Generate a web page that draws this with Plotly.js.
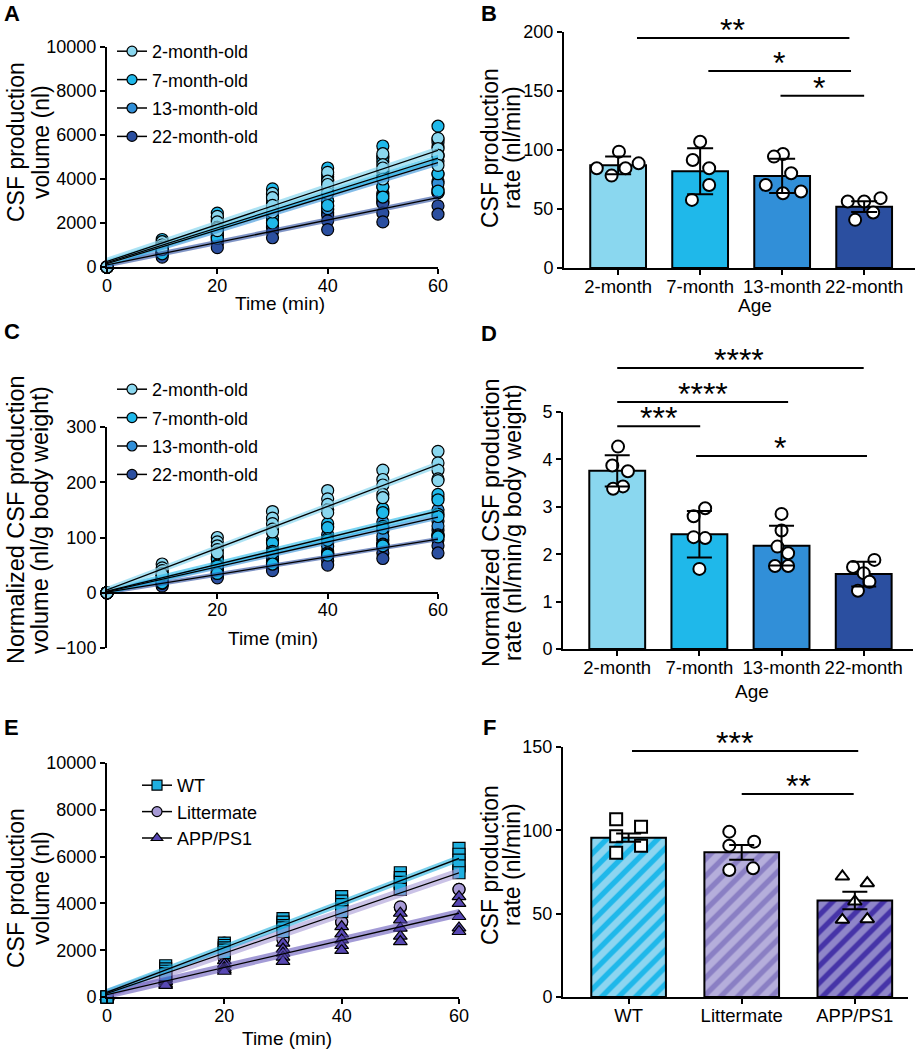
<!DOCTYPE html>
<html><head><meta charset="utf-8">
<script src="https://cdn.plot.ly/plotly-3.0.1.min.js"></script>
<style>body{margin:0;background:#fff}#chart{width:918px;height:1050px}</style>
</head><body><div id="chart"></div>
<script>
// ---------------- DATA ----------------
const times = [0, 10, 20, 30, 40, 50, 60];
const ageGroups = ['2-month-old', '7-month-old', '13-month-old', '22-month-old'];
const ageCats = ['2-month', '7-month', '13-month', '22-month'];
const genoCats = ['WT', 'Littermate', 'APP/PS1'];

// Panel A: CSF production volume (nl), one row per animal
const volA_2m = [
  [0, 1150, 2300, 3350, 4300, 5150, 5850],
  [0, 1000, 2050, 3150, 3900, 4650, 5380],
  [0, 900, 1800, 2650, 3600, 4400, 5080],
  [0, 850, 1750, 2800, 3750, 4500, 5070],
  [0, 800, 1650, 2500, 3350, 4000, 4620]];
const volA_7m = [
  [0, 1250, 2450, 3550, 4500, 5500, 6400],
  [0, 1000, 2100, 3100, 3950, 4800, 5450],
  [0, 900, 1850, 2900, 3700, 4350, 5050],
  [0, 750, 1500, 2300, 3000, 3650, 4240],
  [0, 600, 1300, 2000, 2800, 3180, 3450]];
const volA_13m = [
  [0, 1100, 2250, 3300, 4200, 5050, 5800],
  [0, 1050, 2150, 3200, 4100, 4950, 5660],
  [0, 850, 1800, 2700, 3450, 4150, 4820],
  [0, 750, 1550, 2300, 3000, 3650, 4220],
  [0, 700, 1400, 2100, 2750, 3350, 3890],
  [0, 650, 1350, 2050, 2650, 3250, 3800]];
const volA_22m = [
  [0, 700, 1350, 2000, 2600, 3100, 3550],
  [0, 650, 1250, 1850, 2450, 2950, 3380],
  [0, 600, 1200, 1800, 2350, 2900, 3380],
  [0, 550, 1050, 1600, 2100, 2450, 2780],
  [0, 450, 880, 1330, 1700, 2050, 2400]];
const fitA_start = [250, 200, 150, 100];
const fitA_end = [5300, 4950, 4750, 3150];
const bandA = [180, 150, 150, 120];

// Panel B: CSF production rate (nl/min)
const rateB_mean = [87, 82, 78, 52];
const rateB_sd = [7.5, 19.5, 14.5, 4.5];
const rateB_pts = [
  [98.6, 88.7, 84.5, 84.5, 78.3],
  [107, 91.5, 84.5, 70.4, 57.7],
  [96.6, 94.4, 80.3, 70.4, 64.8, 63.4],
  [59.2, 56.3, 56.3, 47, 40.8]];
const sigB = [[0.23, 2.82, 195, '**', 1.40], [1.10, 2.84, 167, '*', 1.96], [1.98, 3.0, 146, '*', 2.45]];

// Panel C: normalized volume (nl/g body weight)
const volC_2m = [
  [0, 52, 100, 147, 185, 222, 256],
  [0, 45, 92, 135, 170, 205, 235],
  [0, 40, 85, 125, 160, 195, 222],
  [0, 35, 78, 115, 150, 178, 206],
  [0, 33, 72, 110, 145, 172, 203]];
const volC_7m = [
  [0, 33, 65, 95, 125, 152, 178],
  [0, 30, 60, 90, 118, 145, 168],
  [0, 25, 50, 75, 98, 120, 142],
  [0, 24, 48, 72, 95, 117, 138],
  [0, 18, 35, 52, 68, 85, 101]];
const volC_13m = [
  [0, 30, 62, 92, 120, 148, 171],
  [0, 27, 53, 80, 105, 128, 150],
  [0, 23, 46, 68, 90, 112, 130],
  [0, 21, 42, 63, 84, 102, 121],
  [0, 18, 37, 55, 72, 88, 105],
  [0, 17, 35, 52, 70, 87, 103]];
const volC_22m = [
  [0, 20, 40, 58, 75, 95, 113],
  [0, 18, 37, 55, 70, 87, 104],
  [0, 17, 33, 50, 65, 82, 96],
  [0, 15, 30, 44, 58, 72, 85],
  [0, 12, 27, 40, 50, 62, 72]];
const fitC_start = [5, 3, 2, 1];
const fitC_end = [232, 148, 137, 97];
const bandC = [6, 6, 5, 4];

// Panel D: normalized rate (nl/min/g body weight)
const rateD_mean = [3.76, 2.42, 2.18, 1.58];
const rateD_sd = [0.33, 0.49, 0.42, 0.26];
const rateD_pts = [
  [4.27, 3.87, 3.75, 3.43, 3.38],
  [2.97, 2.8, 2.36, 2.34, 1.69],
  [2.85, 2.5, 2.16, 2.02, 1.75, 1.75],
  [1.88, 1.73, 1.6, 1.42, 1.23]];
const sigD = [[0, 3, 5.93, '****', 1.48], [0, 2.08, 5.21, '****', 1.04], [0, 1.01, 4.7, '***', 0.5], [0.96, 3.04, 4.07, '*', 1.98]];

// Panel E: CSF production volume by genotype (nl)
const volE_wt = [
  [0, 1335, 2300, 3350, 4290, 5310, 6350],
  [0, 1200, 2200, 3200, 4100, 5100, 6100],
  [0, 1100, 2100, 3050, 3950, 4900, 5850],
  [0, 1000, 2000, 2950, 3750, 4600, 5600],
  [0, 950, 1900, 2800, 3650, 4600, 5310]];
const volE_lit = [
  [0, 1100, 2300, 3350, 4200, 5200, 5950],
  [0, 1000, 2100, 3100, 3900, 4900, 5600],
  [0, 950, 2000, 3000, 3800, 4700, 5450],
  [0, 800, 1700, 2500, 3200, 3820, 4600],
  [0, 750, 1650, 2450, 3200, 3850, 4600]];
const volE_app = [
  [0, 800, 1550, 2300, 3010, 3580, 4290],
  [0, 700, 1400, 2050, 2700, 3300, 4000],
  [0, 650, 1250, 1870, 2440, 2940, 3440],
  [0, 550, 1165, 1700, 2200, 2600, 2950],
  [0, 500, 1100, 1520, 1990, 2370, 2800]];
const fitE_start = [200, 150, 100];
const fitE_end = [5920, 5310, 3580];
const bandE = [150, 200, 180];

// Panel F: CSF production rate by genotype (nl/min)
const rateF_mean = [95.6, 86.8, 57.9];
const rateF_sem = [2.5, 4.4, 5.3];
const rateF_pts = [
  [106.6, 102.2, 96.4, 90.8, 86.6],
  [99.2, 93.2, 90.8, 76.2, 77.2],
  [72.3, 68.3, 57.3, 46.3, 46.7]];
const sigF = [[0.03, 2.03, 147.6, '***', 0.94], [1.0, 1.99, 121.8, '**', 1.5]];

// ---------------- STYLE ----------------
const W = 918, H = 1050;
const px = x => x / W;
const py = y => 1 - y / H;
const FONT = 'Arial';
const ageColors = ['#8ad7ef', '#1fb8ea', '#318fd8', '#2b4fa0'];
const ageBand = ['rgba(138,215,239,0.7)', 'rgba(31,184,234,0.6)', 'rgba(49,143,216,0.6)', 'rgba(43,79,160,0.6)'];
const genoColors = ['#1fb0e0', '#a79ad6', '#5848b4'];
const genoBand = ['rgba(31,176,224,0.6)', 'rgba(167,154,214,0.6)', 'rgba(88,72,180,0.55)'];
const genoSymbols = ['square', 'circle', 'triangle-up'];
const fPatBg = ['#8dd5f0', '#b5aedb', '#8f86c9'];
const fPatFg = ['#1fb8ea', '#8a7fc4', '#4634a8'];
const jitB = [[0.01, 0.25, -0.26, 0.09, -0.08], [0, -0.09, 0.11, 0.11, -0.1], [0.01, -0.1, 0.11, -0.2, 0.23, 0.01], [0.2, -0.2, 0, 0.11, -0.11]];
const jitD = [[0.01, -0.06, 0.13, 0.07, -0.05], [0.07, -0.07, -0.07, 0.07, 0], [0, 0, -0.05, 0.08, -0.08, 0.08], [0.13, -0.13, 0, 0.07, -0.07]];
const jitF = [[-0.11, 0.11, -0.11, 0.11, -0.11], [-0.11, 0.11, -0.11, -0.11, 0.1], [-0.11, 0.11, 0, -0.11, 0.11]];

const traces = [];
const annotations = [];

function linePanel(sets, colors, bands, symbols, names, f0, f1, hw, xa, ya, legendId, order) {
  order.forEach(i => {
    const rows = sets[i];
    traces.push({type: 'scatter', mode: 'markers', xaxis: xa, yaxis: ya,
      x: rows.flatMap(() => times), y: rows.flat(), cliponaxis: false, showlegend: false, hoverinfo: 'skip',
      marker: {color: colors[i], size: 12, symbol: symbols[i], line: {color: 'black', width: 1.2}}});
  });
  order.forEach(i => {
    traces.push({type: 'scatter', mode: 'lines', xaxis: xa, yaxis: ya, x: [0, 60], y: [f0[i] - hw[i], f1[i] - hw[i]],
      line: {width: 0}, showlegend: false, hoverinfo: 'skip'});
    traces.push({type: 'scatter', mode: 'lines', xaxis: xa, yaxis: ya, x: [0, 60], y: [f0[i] + hw[i], f1[i] + hw[i]],
      line: {width: 0}, fill: 'tonexty', fillcolor: bands[i], showlegend: false, hoverinfo: 'skip'});
  });
  order.forEach(i => {
    traces.push({type: 'scatter', mode: 'lines', xaxis: xa, yaxis: ya, x: [0, 60], y: [f0[i], f1[i]],
      line: {color: 'black', width: 1.3}, showlegend: false, hoverinfo: 'skip'});
  });
  names.forEach((n, i) => {
    traces.push({type: 'scatter', mode: 'lines+markers', xaxis: xa, yaxis: ya, x: [null], y: [null], name: n,
      legend: legendId, legendgroup: legendId + i,
      marker: {color: colors[i], size: 10, symbol: symbols[i], line: {color: 'black', width: 1.2}},
      line: {color: 'black', width: 1.5}});
  });
}

function barPanel(cats, mean, err, pts, jit, xa, ya, barStyleFn, width, symbols, errW) {
  cats.forEach((c, i) => {
    traces.push(Object.assign({type: 'bar', x: [i], y: [mean[i]], width: width, xaxis: xa, yaxis: ya,
      showlegend: false, hoverinfo: 'skip'}, barStyleFn(i)));
  });
  pts.forEach((p, i) => {
    traces.push({type: 'scatter', mode: 'markers', xaxis: xa, yaxis: ya,
      x: p.map((v, j) => i + jit[i][j]), y: p, cliponaxis: false, showlegend: false, hoverinfo: 'skip',
      marker: {color: 'white', size: 12, symbol: symbols[i], line: {color: 'black', width: 2}}});
  });
  traces.push({type: 'scatter', mode: 'markers', xaxis: xa, yaxis: ya, x: cats.map((c, i) => i), y: mean,
    marker: {size: 1, opacity: 0}, showlegend: false, hoverinfo: 'skip', cliponaxis: false,
    error_y: {type: 'data', array: err, color: 'black', thickness: 2, width: errW}});
}

function sigLines(sig, xa, ya, starSize) {
  sig.forEach(s => {
    traces.push({type: 'scatter', mode: 'lines', xaxis: xa, yaxis: ya, x: [s[0], s[1]], y: [s[2], s[2]],
      line: {color: 'black', width: 2}, showlegend: false, hoverinfo: 'skip'});
    annotations.push({x: s[4], y: s[2], xref: xa, yref: ya, text: s[3], showarrow: false,
      xanchor: 'center', yanchor: 'middle', yshift: 8, font: {family: FONT, size: starSize, color: 'black'}});
  });
}

// Panel A
linePanel([volA_2m, volA_7m, volA_13m, volA_22m], ageColors, ageBand, ['circle', 'circle', 'circle', 'circle'],
  ageGroups, fitA_start, fitA_end, bandA, 'x', 'y', 'legend', [3, 2, 1, 0]);
// Panel C
linePanel([volC_2m, volC_7m, volC_13m, volC_22m], ageColors, ageBand, ['circle', 'circle', 'circle', 'circle'],
  ageGroups, fitC_start, fitC_end, bandC, 'x3', 'y3', 'legend2', [3, 2, 1, 0]);
// Panel E
linePanel([volE_wt, volE_lit, volE_app], genoColors, genoBand, genoSymbols,
  genoCats, fitE_start, fitE_end, bandE, 'x5', 'y5', 'legend3', [1, 2, 0]);

const solidBar = i => ({marker: {color: ageColors[i], line: {color: 'black', width: 2}}});
// Panel B
barPanel(ageCats, rateB_mean, rateB_sd, rateB_pts, jitB, 'x2', 'y2', solidBar, 0.68,
  ['circle', 'circle', 'circle', 'circle'], 13);
sigLines(sigB, 'x2', 'y2', 32);
// Panel D
barPanel(ageCats, rateD_mean, rateD_sd, rateD_pts, jitD, 'x4', 'y4', solidBar, 0.68,
  ['circle', 'circle', 'circle', 'circle'], 12.5);
sigLines(sigD, 'x4', 'y7', 32);
// Panel F
barPanel(genoCats, rateF_mean, rateF_sem, rateF_pts, jitF, 'x6', 'y6',
  i => ({marker: {color: fPatBg[i], line: {color: 'black', width: 2},
    pattern: {shape: '/', bgcolor: fPatBg[i], fgcolor: fPatFg[i], fgopacity: 1, size: 12, solidity: 0.45, fillmode: 'replace'}}}),
  0.66, ['square', 'circle', 'triangle-up'], 12.5);
sigLines(sigF, 'x6', 'y6', 32);

// ---------------- LAYOUT ----------------
const axisBase = {showline: true, linecolor: 'black', linewidth: 2, ticks: 'outside', ticklen: 5, tickwidth: 2,
  tickcolor: 'black', showgrid: false, zeroline: false, fixedrange: true,
  tickfont: {family: FONT, size: 18, color: 'black'}};
const ax = o => Object.assign({}, axisBase, o);
const xl = {ticklabelstandoff: -4};

const yDomC = [py(648), py(427)];
const rangeC = [-100, 300];
const yDomD = [py(649), py(412)];
const yDomDsig = [py(649), py(335)];

const layout = {
  width: W, height: H, margin: {l: 0, r: 0, t: 0, b: 0}, paper_bgcolor: 'white', plot_bgcolor: 'rgba(0,0,0,0)',
  font: {family: FONT, color: 'black'}, barmode: 'overlay',
  xaxis: ax(Object.assign({domain: [px(107), px(438)], range: [0, 60], tickvals: [0, 20, 40, 60], anchor: 'y'}, xl)),
  yaxis: ax({domain: [py(267), py(47)], range: [0, 10000], tickvals: [0, 2000, 4000, 6000, 8000, 10000],
    tickformat: 'd', anchor: 'x'}),
  xaxis2: ax(Object.assign({domain: [px(564), px(915)], range: [-0.66, 3.62], tickvals: [0, 1, 2, 3], ticktext: ageCats,
    anchor: 'y2', tickfont: {family: FONT, size: 18.5, color: 'black'}}, xl)),
  yaxis2: ax({domain: [py(268), py(32)], range: [0, 200], tickvals: [0, 50, 100, 150, 200], anchor: 'x2'}),
  xaxis3: ax(Object.assign({domain: [px(107), px(438)], range: [0, 60], tickvals: [20, 40, 60], anchor: 'free',
    position: yDomC[0] + (yDomC[1] - yDomC[0]) * (0 - rangeC[0]) / (rangeC[1] - rangeC[0])}, xl)),
  yaxis3: ax({domain: yDomC, range: rangeC, tickvals: [-100, 0, 100, 200, 300], anchor: 'x3'}),
  xaxis4: ax(Object.assign({domain: [px(563), px(913)], range: [-0.66, 3.6], tickvals: [0, 1, 2, 3], ticktext: ageCats,
    anchor: 'y4', tickfont: {family: FONT, size: 18.5, color: 'black'}}, xl)),
  yaxis4: ax({domain: yDomD, range: [0, 5], tickvals: [0, 1, 2, 3, 4, 5], anchor: 'x4'}),
  xaxis5: ax(Object.assign({domain: [px(107), px(459)], range: [0, 60], tickvals: [0, 20, 40, 60], anchor: 'y5'}, xl)),
  yaxis5: ax({domain: [py(997), py(763)], range: [0, 10000], tickvals: [0, 2000, 4000, 6000, 8000, 10000],
    tickformat: 'd', anchor: 'x5'}),
  xaxis6: ax(Object.assign({domain: [px(563), px(908)], range: [-0.58, 2.47], tickvals: [0, 1, 2], ticktext: genoCats,
    anchor: 'y6', tickfont: {family: FONT, size: 18.5, color: 'black'}}, xl)),
  yaxis6: ax({domain: [py(997), py(747)], range: [0, 150], tickvals: [0, 50, 100, 150], anchor: 'x6'}),
  // hidden axis sharing panel D's scale, taller, for significance bars above the axis top
  yaxis7: {domain: yDomDsig, range: [0, 5 * (yDomDsig[1] - yDomDsig[0]) / (yDomD[1] - yDomD[0])], visible: false,
    anchor: 'x4', fixedrange: true, showgrid: false, zeroline: false},
  legend: {x: px(112), y: py(33), xanchor: 'left', yanchor: 'top', font: {family: FONT, size: 18, color: 'black'},
    bgcolor: 'rgba(0,0,0,0)', tracegroupgap: 2, itemsizing: 'trace'},
  legend2: {x: px(112), y: py(371), xanchor: 'left', yanchor: 'top', font: {family: FONT, size: 18, color: 'black'},
    bgcolor: 'rgba(0,0,0,0)', tracegroupgap: 2, itemsizing: 'trace'},
  legend3: {x: px(137), y: py(767), xanchor: 'left', yanchor: 'top', font: {family: FONT, size: 18, color: 'black'},
    bgcolor: 'rgba(0,0,0,0)', tracegroupgap: 0, itemsizing: 'trace'},
  annotations: annotations
};

function pa(text, x, y, size, opts) {
  annotations.push(Object.assign({text: text, x: px(x), y: py(y), xref: 'paper', yref: 'paper', showarrow: false,
    xanchor: 'center', yanchor: 'middle', font: {family: FONT, size: size, color: 'black'}}, opts || {}));
}
// panel letters
[['A', 12, 14], ['B', 489, 13], ['C', 12, 332], ['D', 489, 333], ['E', 11, 727], ['F', 490, 727]].forEach(l =>
  pa('<b>' + l[0] + '</b>', l[1], l[2], 22));
// x titles
pa('Time (min)', 280, 303, 19); pa('Age', 755, 306, 19);
pa('Time (min)', 273, 638, 19); pa('Age', 752, 691, 19);
pa('Time (min)', 287, 1038, 19);
// y titles
const rot = {textangle: -90};
pa('CSF production', 16, 142, 23, rot); pa('volume (nl)', 41, 142, 23, rot);
pa('CSF production', 490, 148, 23, rot); pa('rate (nl/min)', 512, 148, 23, rot);
pa('Normalized CSF production', 16, 520, 23.5, rot); pa('volume (nl/g body weight)', 40, 520, 23.5, rot);
pa('Normalized CSF production', 491, 523, 23.5, rot); pa('rate (nl/min/g body weight)', 513, 523, 23.5, rot);
pa('CSF production', 16, 888, 23, rot); pa('volume (nl)', 41, 888, 23, rot);
pa('CSF production', 490, 865, 23, rot); pa('rate (nl/min)', 512, 865, 23, rot);

Plotly.newPlot('chart', traces, layout, {displayModeBar: false, staticPlot: true});
</script>
</body></html>
